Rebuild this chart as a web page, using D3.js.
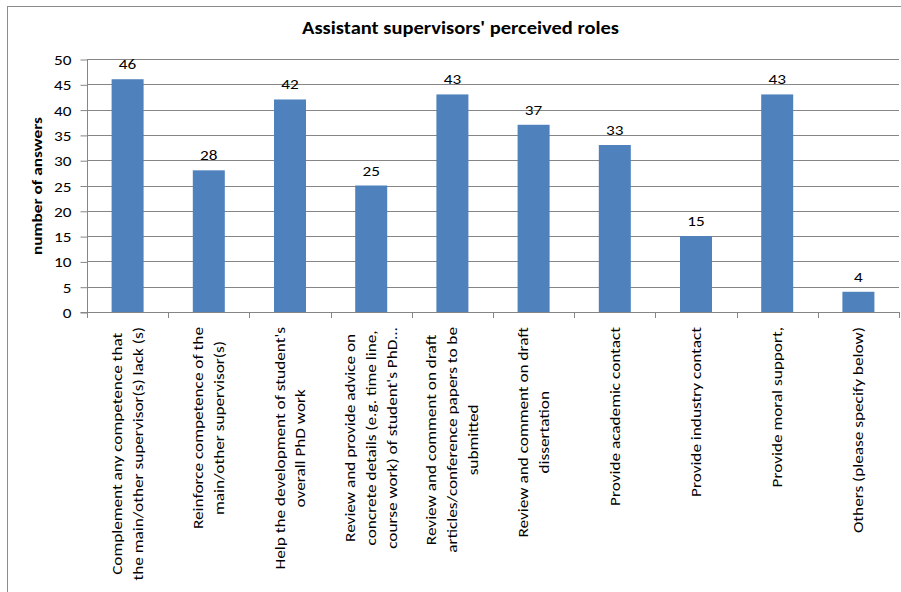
<!DOCTYPE html>
<html>
<head>
<meta charset="utf-8">
<script src="https://cdn.jsdelivr.net/npm/d3@7"></script>
<style>
  html, body { margin: 0; padding: 0; background: #fff; }
  svg { display: block; font-family: Carlito, Calibri, Lato, sans-serif; }
</style>
</head>
<body>
<svg id="chart" width="901" height="592"></svg>
<script>
// Survey answers: roles that assistant supervisors see themselves taking on
const categories = [
  ["Complement any competence  that", "the main/other supervisor(s) lack (s)"],
  ["Reinforce competence of the", "main/other supervisor(s)"],
  ["Help the development of student's", "overall PhD work"],
  ["Review and provide advice on", "concrete details (e.g. time line,", "course work) of student's PhD..."],
  ["Review and comment on draft", "articles/conference papers to be", "submitted"],
  ["Review and comment on draft", "dissertation"],
  ["Provide academic contact"],
  ["Provide industry contact"],
  ["Provide moral support,"],
  ["Others (please specify below)"]
];
const answers = [46, 28, 42, 25, 43, 37, 33, 15, 43, 4];
const yTicks = [0, 5, 10, 15, 20, 25, 30, 35, 40, 45, 50];
const chartTitle = "Assistant supervisors' perceived roles";
const yTitle = "number of answers";

const svg = d3.select("#chart");
const W = 901, H = 592;
const plotLeft = 87, plotRight = 899, plotTop = 59, plotBottom = 312;
const grid = "#868686";
const stretch = 1.23; // text in this chart is drawn wide along its reading direction

const idx = d3.range(categories.length);
const x = d3.scaleBand().domain(idx).range([plotLeft, plotRight]).padding(0);
const y = d3.scaleLinear().domain([0, 50]).range([plotBottom, plotTop]);

// outer chart frame
svg.append("rect")
  .attr("x", 7.5).attr("y", 6.5)
  .attr("width", W + 20).attr("height", H + 20)
  .attr("fill", "none").attr("stroke", "#8c8c8c").attr("stroke-width", 1);

// title
svg.append("text")
  .attr("x", 460.5 - 317 / 2).attr("y", 34)
  .attr("font-size", 17).attr("font-weight", "bold")
  .attr("textLength", 317).attr("lengthAdjust", "spacingAndGlyphs")
  .attr("fill", "#000")
  .text(chartTitle);

// horizontal gridlines
svg.append("g")
  .selectAll("line")
  .data(yTicks.filter(t => t > 0))
  .join("line")
  .attr("x1", plotLeft).attr("x2", plotRight)
  .attr("y1", d => Math.round(y(d)) + 0.5).attr("y2", d => Math.round(y(d)) + 0.5)
  .attr("stroke", grid).attr("stroke-width", 1);

// bars
const barW = 32;
svg.append("g")
  .selectAll("rect")
  .data(answers)
  .join("rect")
  .attr("x", (d, i) => x(i) + x.bandwidth() / 2 - barW / 2)
  .attr("y", d => y(d))
  .attr("width", barW)
  .attr("height", d => plotBottom - y(d))
  .attr("fill", "#4f81bd");

// value labels
svg.append("g")
  .selectAll("text")
  .data(answers)
  .join("text")
  .attr("transform", (d, i) => `translate(${x(i) + x.bandwidth() / 2},${y(d) - 10}) scale(${stretch},1)`)
  .attr("text-anchor", "middle")
  .attr("font-size", 14)
  .attr("fill", "#000")
  .text(d => d);

// y axis
const yAxis = d3.axisLeft(y).tickValues(yTicks).tickSize(7).tickFormat("");
const gy = svg.append("g")
  .attr("transform", `translate(${plotLeft + 0.5},0.5)`)
  .call(yAxis);
gy.select(".domain").attr("stroke", grid).attr("d", `M-7,${plotBottom}H0V${plotTop}`);
gy.selectAll(".tick line").attr("stroke", grid);
gy.selectAll(".tick").append("text")
  .attr("transform", `translate(-16,5) scale(${stretch},1)`)
  .attr("text-anchor", "end")
  .attr("font-size", 14)
  .attr("font-family", "Carlito, Calibri, Lato, sans-serif")
  .attr("fill", "#000")
  .text(d => d);

// x axis baseline and tick marks between categories
const gx = svg.append("g");
gx.append("line")
  .attr("x1", plotLeft).attr("x2", plotRight)
  .attr("y1", plotBottom + 0.5).attr("y2", plotBottom + 0.5)
  .attr("stroke", grid);
gx.selectAll("line.tk")
  .data(d3.range(categories.length + 1))
  .join("line")
  .attr("class", "tk")
  .attr("x1", i => Math.round(plotLeft + i * x.step()) + 0.5)
  .attr("x2", i => Math.round(plotLeft + i * x.step()) + 0.5)
  .attr("y1", plotBottom).attr("y2", plotBottom + 6)
  .attr("stroke", grid);

// rotated category labels: lines centred on each other, block hung from the axis
const lineGap = 21;
const labelTop = 327;
categories.forEach((lines, i) => {
  const cx = x(i) + x.bandwidth() / 2;
  const g = svg.append("g");
  const t = g.append("text")
    .attr("text-anchor", "middle")
    .attr("font-size", 14)
    .attr("fill", "#000");
  const n = lines.length;
  lines.forEach((s, k) => {
    t.append("tspan")
      .attr("x", 0)
      .attr("y", (k - (n - 1) / 2) * lineGap + 5)
      .text(s);
  });
  let maxLen = 0;
  t.selectAll("tspan").each(function () {
    maxLen = Math.max(maxLen, this.getComputedTextLength());
  });
  g.attr("transform", `translate(${cx},${labelTop + maxLen * stretch / 2}) rotate(-90) scale(${stretch},1)`);
});

// y axis title
svg.append("text")
  .attr("transform", "translate(42,186) rotate(-90)")
  .attr("x", -69).attr("y", 0)
  .attr("font-size", 14).attr("font-weight", "bold")
  .attr("textLength", 138).attr("lengthAdjust", "spacingAndGlyphs")
  .attr("fill", "#000")
  .text(yTitle);
</script>
</body>
</html>
